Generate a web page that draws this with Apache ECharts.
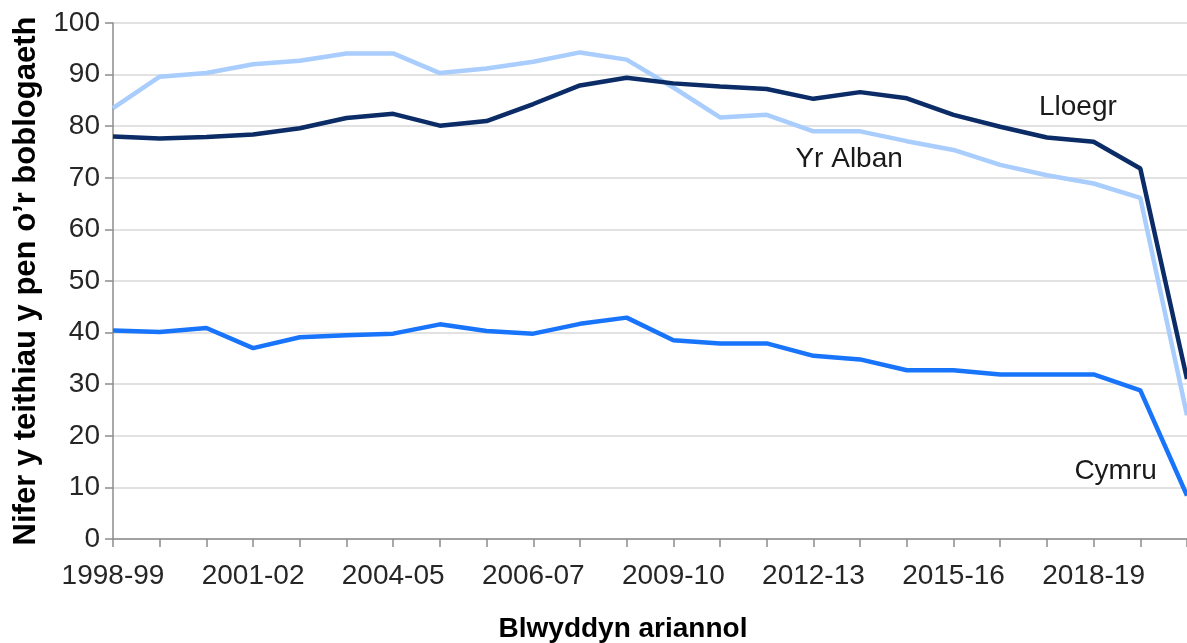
<!DOCTYPE html>
<html>
<head>
<meta charset="utf-8">
<script src="https://cdn.jsdelivr.net/npm/echarts@6/dist/echarts.min.js"></script>
<style>
html,body{margin:0;padding:0;background:#fff;overflow:hidden;}
#chart{width:1187px;height:643px;}
</style>
</head>
<body>
<div id="chart"></div>
<script>
const categories = ["1998-99","1999-00","2000-01","2001-02","2002-03","2003-04","2004-05","2005-06","2005-06 (b)","2006-07","2007-08","2008-09","2009-10","2010-11","2011-12","2012-13","2013-14","2014-15","2015-16","2016-17","2017-18","2018-19","2019-20","2020-21"];
const lloegr = [78.0,77.6,77.9,78.4,79.6,81.6,82.4,80.1,81.0,84.3,87.9,89.4,88.3,87.7,87.2,85.3,86.6,85.4,82.2,79.9,77.8,77.0,71.8,31.0];
const yrAlban = [83.5,89.6,90.3,92.0,92.7,94.1,94.1,90.3,91.2,92.5,94.3,92.9,87.5,81.7,82.2,79.0,79.0,77.1,75.4,72.5,70.5,68.9,66.1,24.0];
const cymru = [40.4,40.1,40.9,37.0,39.1,39.5,39.8,41.6,40.3,39.8,41.7,42.9,38.5,37.9,37.9,35.5,34.8,32.7,32.7,31.9,31.9,31.9,28.8,8.4];
const yTicks = {min:0, max:100, interval:10};
const xTitle = "Blwyddyn ariannol";
const yTitle = "Nifer y teithiau y pen o\u2019r boblogaeth";

const FONT = "'Liberation Sans', Arial, sans-serif";
const chart = echarts.init(document.getElementById('chart'), null, {renderer:'canvas'});

function seriesLabel(name, idx, val, dx){
  return {
    symbol:'circle', symbolSize:1, silent:true, animation:false,
    itemStyle:{color:'rgba(0,0,0,0)'},
    data:[{coord:[idx, val],
      label:{show:true, position:'inside', formatter:name, offset:[dx,0],
        color:'#1a1a1a', fontSize:28, fontFamily:FONT}}]
  };
}

chart.setOption({
  animation:false,
  backgroundColor:'#ffffff',
  grid:{left:113, right:0, top:23, bottom:104, containLabel:false, outerBoundsMode:'none'},
  xAxis:{
    type:'category', data:categories, boundaryGap:false,
    name:xTitle, nameLocation:'middle', nameGap:76,
    nameTextStyle:{fontSize:28, fontWeight:'bold', color:'#000', fontFamily:FONT, padding:[0,54,0,0]},
    axisLine:{lineStyle:{color:'#8c8c8c', width:1.5}},
    axisTick:{show:true, interval:0, length:8, lineStyle:{color:'#8c8c8c', width:1.5}},
    axisLabel:{interval:2, margin:23, fontSize:28, color:'#262626', fontFamily:FONT},
    splitLine:{show:false}
  },
  yAxis:{
    type:'value', min:yTicks.min, max:yTicks.max, interval:yTicks.interval,
    name:yTitle, nameLocation:'middle', nameGap:70,
    nameTextStyle:{fontSize:31, fontWeight:'bold', color:'#000', fontFamily:FONT},
    axisLine:{show:true, lineStyle:{color:'#8c8c8c', width:1.5}},
    axisTick:{show:true, length:8, lineStyle:{color:'#8c8c8c', width:1.5}},
    axisLabel:{margin:13, fontSize:28, color:'#262626', fontFamily:FONT},
    splitLine:{show:true, lineStyle:{color:'#d9d9d9', width:1.5}}
  },
  series:[
    {name:'Yr Alban', type:'line', data:yrAlban, symbol:'none', lineStyle:{color:'#a9cdfd', width:4.5}, z:2,
      markPoint:seriesLabel('Yr Alban', 16, 73.5, -11)},
    {name:'Lloegr', type:'line', data:lloegr, symbol:'none', lineStyle:{color:'#0b2c66', width:4.5}, z:3,
      markPoint:seriesLabel('Lloegr', 20, 83.6, 31)},
    {name:'Cymru', type:'line', data:cymru, symbol:'none', lineStyle:{color:'#1874fb', width:4.5}, z:4,
      markPoint:seriesLabel('Cymru', 21, 13.1, 22)}
  ]
});
</script>
</body>
</html>
